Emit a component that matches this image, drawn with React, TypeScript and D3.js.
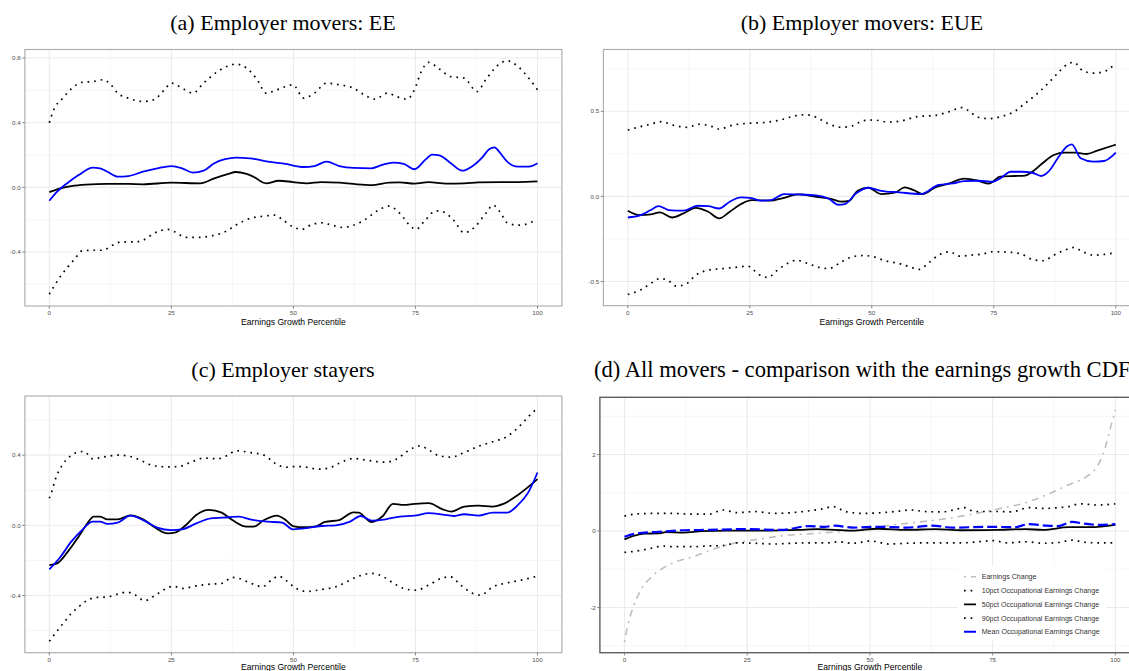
import React from 'react';
import * as d3 from 'd3';

type Pt = [number, number];

// ---------- text ----------
const titleA = '(a) Employer movers: EE';
const titleB = '(b) Employer movers: EUE';
const titleC = '(c) Employer stayers';
const titleD = '(d) All movers - comparison with the earnings growth CDF';
const xTitle = 'Earnings Growth Percentile';
const legendLabels = [
  'Earnings Change',
  '10pct Occupational Earnings Change',
  '50pct Occupational Earnings Change',
  '90pct Occupational Earnings Change',
  'Mean Occupational Earnings Change',
];

// ---------- ticks ----------
const xMajor = [0, 25, 50, 75, 100];
const xMinor = [12.5, 37.5, 62.5, 87.5];
const aYMajor = [-0.4, 0, 0.4, 0.8];
const aYMinor = [-0.6, -0.2, 0.2, 0.6];
const bYMajor = [-0.5, 0, 0.5];
const bYMinor = [-0.25, 0.25, 0.75];
const cYMajor = [-0.4, 0, 0.4];
const cYMinor = [-0.6, -0.2, 0.2, 0.6];
const dYMajor = [-2, 0, 2];
const dYMinor = [-3, -1, 1, 3];

// ---------- (a) Employer movers: EE ----------
const aP90: Pt[] = [[0,0.40],[0.9,0.48],[2.7,0.55],[4.5,0.61],[6.7,0.65],[8.9,0.655],[11.1,0.666],[12.6,0.635],[14,0.583],[16.2,0.552],[19.2,0.531],[21.4,0.542],[23.6,0.604],[25,0.645],[27.2,0.614],[29.4,0.583],[31.6,0.645],[34.5,0.717],[36.7,0.752],[38.2,0.763],[40.4,0.738],[42.6,0.666],[44.4,0.583],[47,0.608],[49.9,0.635],[52.1,0.552],[54.3,0.583],[56.8,0.645],[59.4,0.635],[62.3,0.614],[64.5,0.573],[66.7,0.546],[69.3,0.583],[71.1,0.562],[73.3,0.546],[74.8,0.604],[76.2,0.717],[77.7,0.773],[79.9,0.732],[82.1,0.686],[85,0.676],[87.6,0.593],[89.4,0.666],[91.6,0.748],[93.8,0.783],[96,0.748],[98.2,0.676],[100,0.604]];
const aP10: Pt[] = [[0,-0.661],[0.9,-0.616],[2.3,-0.55],[3.8,-0.492],[5.3,-0.44],[6.7,-0.393],[8.9,-0.389],[11.1,-0.389],[12.6,-0.364],[14.8,-0.337],[17.7,-0.337],[19.2,-0.327],[21.4,-0.285],[24.3,-0.26],[25.7,-0.275],[28,-0.31],[30.1,-0.31],[33.8,-0.296],[36,-0.275],[38.2,-0.234],[41.1,-0.192],[44,-0.178],[46.2,-0.172],[47.7,-0.198],[49.9,-0.244],[51.7,-0.26],[53.5,-0.234],[55.7,-0.219],[57.9,-0.234],[60.1,-0.248],[62.3,-0.234],[64.5,-0.203],[67.4,-0.141],[69.6,-0.116],[71.8,-0.161],[74,-0.24],[75.1,-0.26],[77,-0.203],[79.2,-0.145],[80.6,-0.151],[82.8,-0.203],[85,-0.281],[87.2,-0.244],[89.4,-0.161],[90.9,-0.11],[92.3,-0.151],[93.8,-0.219],[96,-0.234],[98.2,-0.223],[99.6,-0.198]];
const aP50: Pt[] = [[0,-0.029],[2.3,-0.006],[4.5,0.008],[7.5,0.017],[11.9,0.021],[16.2,0.021],[19.2,0.019],[25,0.029],[30.9,0.025],[33.8,0.056],[36.7,0.083],[38.2,0.095],[40.4,0.083],[41.8,0.066],[44.4,0.025],[47,0.041],[49.9,0.033],[52.8,0.025],[55.7,0.033],[59.4,0.029],[62.3,0.021],[66,0.014],[69.6,0.029],[71.8,0.031],[74.8,0.023],[77.7,0.033],[81.3,0.023],[85,0.025],[87.9,0.031],[92.3,0.033],[96,0.033],[100,0.037]];
const aMean: Pt[] = [[0,-0.083],[1.6,-0.027],[3.8,0.029],[6,0.076],[8.9,0.122],[10.4,0.118],[11.9,0.097],[14,0.066],[16.2,0.07],[19.2,0.097],[22.1,0.118],[25,0.132],[27.2,0.118],[29.4,0.091],[31.6,0.103],[33.8,0.149],[36,0.174],[38.2,0.184],[41.1,0.18],[44.8,0.159],[48.4,0.145],[52.1,0.126],[54.3,0.132],[56.8,0.159],[59.4,0.132],[62.3,0.12],[66,0.118],[68.2,0.139],[70.4,0.153],[72.6,0.145],[74.8,0.112],[77,0.17],[78.4,0.203],[79.9,0.198],[82.1,0.153],[84.6,0.103],[86.5,0.128],[88.7,0.186],[90.1,0.236],[91.2,0.248],[92.3,0.215],[93.8,0.159],[96,0.128],[98.2,0.128],[100,0.149]];

// ---------- (b) Employer movers: EUE ----------
const bP90: Pt[] = [[0,0.39],[1.8,0.404],[4.7,0.425],[6.9,0.439],[9.1,0.42],[12.1,0.406],[14.7,0.424],[17.3,0.41],[18.7,0.396],[21.7,0.42],[24.6,0.429],[28.3,0.435],[31.3,0.449],[34.2,0.473],[36.4,0.48],[38.6,0.465],[40.9,0.429],[43.8,0.406],[46,0.414],[48.2,0.445],[50.4,0.449],[53.4,0.437],[56.3,0.445],[59.3,0.469],[63,0.476],[65.9,0.498],[68.5,0.522],[69.6,0.508],[71.8,0.465],[74,0.457],[77,0.473],[79.2,0.498],[81.4,0.547],[83.6,0.596],[85.8,0.655],[88.1,0.724],[89.9,0.773],[91.4,0.788],[93.2,0.739],[95.4,0.724],[97.6,0.733],[100,0.782]];
const bP10: Pt[] = [[0,-0.576],[2.5,-0.551],[4.7,-0.512],[6.6,-0.482],[8.4,-0.496],[9.9,-0.527],[12.1,-0.512],[13.9,-0.463],[16.5,-0.433],[19.5,-0.424],[21.7,-0.418],[24.6,-0.41],[26.8,-0.457],[28.7,-0.476],[30.5,-0.437],[32.7,-0.394],[34.6,-0.375],[37.2,-0.398],[39.4,-0.418],[41.2,-0.424],[43.8,-0.384],[46,-0.355],[48.2,-0.347],[50.4,-0.355],[52.7,-0.378],[55.6,-0.394],[57.8,-0.414],[59.7,-0.429],[61.5,-0.394],[63.7,-0.345],[65.9,-0.325],[68.1,-0.351],[70.4,-0.345],[72.6,-0.339],[74.8,-0.325],[77.7,-0.327],[80.7,-0.339],[82.9,-0.371],[85.1,-0.378],[87.3,-0.345],[89.5,-0.316],[91.4,-0.3],[93.2,-0.325],[95.4,-0.345],[97.6,-0.341],[100,-0.331]];
const bP50: Pt[] = [[0,-0.084],[2.5,-0.11],[4.7,-0.106],[6.6,-0.094],[9.1,-0.124],[11.4,-0.1],[13.9,-0.067],[16.5,-0.09],[18.7,-0.129],[20.9,-0.09],[23.2,-0.045],[25.4,-0.022],[29.1,-0.025],[32,-0.008],[34.9,0.012],[38.6,-0.002],[41.6,-0.014],[43.8,-0.031],[45.3,-0.027],[47.1,0.033],[49.3,0.051],[51.9,0.014],[54.9,0.024],[56.7,0.053],[58.6,0.037],[60.4,0.014],[63,0.053],[65.9,0.076],[68.9,0.104],[71.8,0.092],[74,0.075],[76.3,0.116],[79.2,0.12],[81.4,0.122],[82.9,0.145],[85.1,0.198],[87.3,0.243],[89.5,0.257],[91.7,0.257],[94,0.249],[96.2,0.269],[100,0.304]];
const bMean: Pt[] = [[0,-0.124],[2.5,-0.112],[4.7,-0.08],[6.3,-0.057],[8.4,-0.08],[11.4,-0.084],[14.3,-0.055],[16.5,-0.057],[18.7,-0.071],[20.9,-0.031],[23.2,-0.006],[25.4,-0.01],[27.2,-0.025],[29.4,-0.022],[32,0.014],[34.9,0.012],[38.6,0.006],[41.2,-0.014],[43.1,-0.049],[44.5,-0.045],[46.8,0.018],[49.3,0.051],[51.9,0.033],[55.6,0.024],[60,0.014],[63.7,0.067],[66.7,0.076],[68.9,0.09],[71.8,0.092],[74.8,0.086],[76.3,0.106],[78.5,0.145],[80.7,0.145],[82.9,0.139],[84.7,0.12],[86.2,0.145],[88.1,0.224],[89.9,0.292],[91,0.306],[92.8,0.224],[95.4,0.204],[97.6,0.208],[100,0.257]];

// ---------- (c) Employer stayers ----------
const cP90: Pt[] = [[0,0.154],[0.5,0.192],[1.2,0.259],[2.7,0.345],[4.2,0.392],[5.6,0.415],[7.1,0.421],[8.9,0.379],[11.1,0.389],[14,0.4],[16.6,0.392],[19.2,0.364],[21.4,0.339],[24.3,0.333],[26.5,0.335],[29.4,0.364],[31.6,0.383],[34.5,0.379],[36.7,0.402],[38.2,0.425],[41.1,0.415],[44,0.4],[46.2,0.354],[48.4,0.331],[50.6,0.335],[52.8,0.331],[55,0.32],[57.2,0.326],[59.4,0.354],[62.3,0.381],[64.5,0.373],[66.7,0.364],[68.9,0.36],[71.1,0.377],[73.3,0.421],[75.9,0.453],[77.7,0.43],[79.9,0.396],[82.4,0.389],[85,0.415],[87.9,0.45],[90.8,0.476],[93.8,0.507],[96.3,0.564],[98.2,0.621],[100,0.669]];
const cP10: Pt[] = [[0,-0.661],[1.6,-0.602],[3.1,-0.55],[4.5,-0.503],[6,-0.465],[7.8,-0.427],[9.7,-0.411],[11.9,-0.408],[14,-0.392],[15.9,-0.381],[17.7,-0.398],[19.5,-0.43],[21.4,-0.404],[23.6,-0.366],[25.4,-0.347],[27.2,-0.36],[30.1,-0.345],[33.1,-0.335],[35.3,-0.331],[37.5,-0.297],[38.9,-0.303],[41.1,-0.328],[43.7,-0.35],[45.5,-0.312],[47,-0.29],[48.4,-0.312],[50.6,-0.36],[52.8,-0.377],[55.7,-0.366],[58.7,-0.35],[60.9,-0.322],[63.1,-0.293],[66,-0.274],[68.2,-0.29],[70.4,-0.328],[72.6,-0.36],[75.1,-0.37],[77.7,-0.341],[80.2,-0.303],[82.1,-0.293],[84.3,-0.341],[86.5,-0.385],[88.3,-0.398],[90.9,-0.35],[93.8,-0.328],[96.7,-0.312],[100,-0.29]];
const cP50: Pt[] = [[0,-0.227],[1.6,-0.217],[3.8,-0.15],[6,-0.065],[7.8,0.011],[9.1,0.05],[10.4,0.05],[11.9,0.034],[14,0.034],[16.6,0.057],[19.2,0.034],[21.4,-0.008],[24.3,-0.046],[25.7,-0.042],[28,0.002],[30.1,0.059],[32.7,0.088],[35.3,0.072],[37.5,0.03],[40.4,-0.008],[41.8,-0.008],[44,0.03],[46.6,0.055],[48.4,0.03],[49.9,-0.004],[52.1,-0.011],[54.3,-0.008],[56.5,0.019],[59.4,0.03],[62.3,0.074],[63.4,0.072],[66,0.019],[68.2,0.05],[70.4,0.122],[72.6,0.116],[74.8,0.122],[77.7,0.126],[80.6,0.091],[82.4,0.078],[85,0.107],[87.9,0.112],[90.8,0.107],[93,0.122],[96,0.173],[100,0.263]];
const cMean: Pt[] = [[0,-0.251],[2.3,-0.179],[4.5,-0.093],[6.7,-0.027],[8.9,0.021],[10.4,0.021],[11.9,0.008],[14,0.015],[16.6,0.055],[19.2,0.03],[22.1,-0.013],[25,-0.027],[27.2,-0.023],[30.1,0.011],[33.1,0.04],[36.7,0.046],[38.9,0.05],[41.1,0.034],[44.8,0.021],[47.7,0.015],[49.9,-0.023],[52.1,-0.017],[55.7,-0.004],[58.7,0],[61.6,0.021],[63.8,0.053],[66,0.027],[68.9,0.034],[71.8,0.05],[74.8,0.055],[77.7,0.069],[80.6,0.061],[82.8,0.053],[85,0.063],[87.9,0.055],[90.8,0.072],[93.8,0.072],[96,0.116],[98.2,0.192],[100,0.301]];

// ---------- (d) All movers ----------
const dEarn: Pt[] = [[0,-2.9],[0.7,-2.46],[1.8,-1.98],[3.3,-1.55],[5.5,-1.2],[7.7,-0.98],[10.6,-0.8],[14.3,-0.66],[18.7,-0.45],[22.3,-0.32],[26,-0.24],[31.9,-0.13],[39.2,-0.06],[46.5,0.01],[51.6,0.11],[57.5,0.2],[64.8,0.31],[70,0.42],[75.8,0.57],[81.7,0.74],[86.8,0.99],[90.5,1.21],[94.1,1.42],[96.3,1.69],[97.8,2.12],[98.9,2.65],[100,3.17]];
const dP90: Pt[] = [[0,0.39],[2.6,0.45],[6.2,0.46],[9.9,0.46],[13.6,0.44],[17.2,0.44],[20.1,0.55],[23,0.48],[26.7,0.51],[30.4,0.46],[34.1,0.48],[37.7,0.53],[40.7,0.59],[42.5,0.64],[45,0.51],[48.7,0.46],[52.4,0.48],[56,0.52],[58.2,0.55],[61.2,0.51],[64.8,0.5],[67,0.55],[69.2,0.61],[71.4,0.51],[75.8,0.51],[78.8,0.5],[82.4,0.61],[85.3,0.59],[88.3,0.61],[90.5,0.64],[92.7,0.71],[96.3,0.68],[100,0.71]];
const dP10: Pt[] = [[0,-0.56],[2.6,-0.52],[5.5,-0.45],[7.7,-0.39],[9.9,-0.41],[13.6,-0.41],[17.2,-0.39],[20.1,-0.38],[23,-0.31],[26.7,-0.32],[30.4,-0.34],[34.1,-0.32],[37.7,-0.31],[41.4,-0.31],[43.6,-0.28],[46.5,-0.32],[50.2,-0.26],[53.8,-0.34],[57.5,-0.32],[61.2,-0.31],[64.8,-0.31],[68.5,-0.31],[72.2,-0.28],[75.1,-0.25],[78,-0.31],[81.7,-0.28],[85.3,-0.32],[88.3,-0.3],[91.2,-0.24],[94.1,-0.3],[97.1,-0.31],[100,-0.31]];
const dP50: Pt[] = [[0,-0.22],[1.8,-0.13],[4,-0.07],[7,-0.06],[8.4,-0.03],[12.1,-0.04],[15.8,0],[20.9,0.01],[28.2,0.01],[35.5,0.03],[39.2,0.05],[46.5,0.01],[51.6,0.06],[57.5,0.03],[63.4,0.05],[68.5,0.02],[75.8,0.03],[81.7,0.05],[85.3,0.03],[90.5,0.1],[94.9,0.1],[100,0.16]];
const dMean: Pt[] = [[0,-0.15],[2.6,-0.06],[7,-0.02],[12.1,0.02],[17.2,0.03],[24.5,0.05],[31.9,0.03],[37.7,0.13],[40.7,0.11],[42.9,0.14],[46.5,0.09],[51.6,0.11],[57.5,0.09],[62.6,0.14],[67,0.09],[74.4,0.11],[79.5,0.1],[82.4,0.18],[86,0.14],[88.3,0.13],[91.2,0.24],[93.4,0.2],[96.3,0.16],[100,0.18]];

// ---------- styles ----------
type Style = { stroke: string; width: number; dash?: string };
const sDot: Style = { stroke: '#000', width: 1.7, dash: '1.7 4.9' };
const sBlack: Style = { stroke: '#000', width: 1.8 };
const sBlue: Style = { stroke: '#0000FF', width: 1.8 };
const sBlueDash: Style = { stroke: '#0000FF', width: 2.2, dash: '10 4' };
const sGray: Style = { stroke: '#BEBEBE', width: 1.6, dash: '2 5 7 5' };

const SANS = '"Liberation Sans", Arial, Helvetica, sans-serif';
const SERIF = '"Liberation Serif", "Times New Roman", serif';

interface PanelCfg {
  id: string;
  title: string;
  titleX: number;
  titleAnchor: 'middle' | 'start';
  titleY: number;
  titleSize: number;
  left: number; right: number; top: number; bottom: number;
  yDomain: [number, number];
  yMajor: number[]; yMinor: number[];
  fmt: (v: number) => string;
  series: { data: Pt[]; style: Style }[];
  border: string; borderW: number;
  legend?: boolean;
}

const fmt1 = (v: number) => (Math.abs(v) < 1e-9 ? '0.0' : v.toFixed(1));
const fmt0 = (v: number) => String(Math.round(v));

const panels: PanelCfg[] = [
  { id: 'a', title: titleA, titleX: 283, titleAnchor: 'middle', titleY: 29.5, titleSize: 22,
    left: 24.9, right: 561.9, top: 49.5, bottom: 306, yDomain: [-0.734, 0.853],
    yMajor: aYMajor, yMinor: aYMinor, fmt: fmt1,
    series: [{ data: aP90, style: sDot }, { data: aP10, style: sDot }, { data: aP50, style: sBlack }, { data: aMean, style: sBlue }],
    border: '#A9A9A9', borderW: 1.1 },
  { id: 'b', title: titleB, titleX: 862, titleAnchor: 'middle', titleY: 29.5, titleSize: 22,
    left: 603.4, right: 1140.2, top: 49.5, bottom: 305.7, yDomain: [-0.642, 0.863],
    yMajor: bYMajor, yMinor: bYMinor, fmt: fmt1,
    series: [{ data: bP90, style: sDot }, { data: bP10, style: sDot }, { data: bP50, style: sBlack }, { data: bMean, style: sBlue }],
    border: '#A9A9A9', borderW: 1.1 },
  { id: 'c', title: titleC, titleX: 283, titleAnchor: 'middle', titleY: 376.5, titleSize: 22,
    left: 24.9, right: 561.9, top: 396, bottom: 652.7, yDomain: [-0.726, 0.737],
    yMajor: cYMajor, yMinor: cYMinor, fmt: fmt1,
    series: [{ data: cP90, style: sDot }, { data: cP10, style: sDot }, { data: cP50, style: sBlack }, { data: cMean, style: sBlue }],
    border: '#A9A9A9', borderW: 1.1 },
  { id: 'd', title: titleD, titleX: 594, titleAnchor: 'start', titleY: 376.5, titleSize: 22.6,
    left: 599.9, right: 1139.9, top: 397.3, bottom: 652.7, yDomain: [-3.18, 3.495],
    yMajor: dYMajor, yMinor: dYMinor, fmt: fmt0,
    series: [{ data: dEarn, style: sGray }, { data: dP10, style: sDot }, { data: dP90, style: sDot }, { data: dP50, style: sBlack }, { data: dMean, style: sBlueDash }],
    border: '#5E5E5E', borderW: 1.4, legend: true },
];

const legendStyles: Style[] = [sGray, sDot, sBlack, sDot, { ...sBlue, width: 2 }];

function Panel({ p }: { p: PanelCfg }) {
  const x = d3.scaleLinear().domain([-5, 105]).range([p.left, p.right]);
  const y = d3.scaleLinear().domain(p.yDomain).range([p.bottom, p.top]);
  const line = d3.line<Pt>().x(d => x(d[0])).y(d => y(d[1])).curve(d3.curveMonotoneX);
  const clipId = `clip-${p.id}`;
  const w = p.right - p.left, h = p.bottom - p.top;
  const xc = (p.left + p.right) / 2;
  return (
    <g>
      <text x={p.titleX} y={p.titleY} fontFamily={SERIF} fontSize={p.titleSize} textAnchor={p.titleAnchor} fill="#000">{p.title}</text>
      <defs>
        <clipPath id={clipId}><rect x={p.left} y={p.top} width={w} height={h} /></clipPath>
      </defs>
      <rect x={p.left} y={p.top} width={w} height={h} fill="#fff" />
      <g clipPath={`url(#${clipId})`}>
        {xMinor.map(t => <line key={'xm' + t} x1={x(t)} x2={x(t)} y1={p.top} y2={p.bottom} stroke="#F0F0F0" strokeWidth={0.6} />)}
        {p.yMinor.map(t => <line key={'ym' + t} x1={p.left} x2={p.right} y1={y(t)} y2={y(t)} stroke="#F0F0F0" strokeWidth={0.6} />)}
        {xMajor.map(t => <line key={'xM' + t} x1={x(t)} x2={x(t)} y1={p.top} y2={p.bottom} stroke="#EBEBEB" strokeWidth={1.1} />)}
        {p.yMajor.map(t => <line key={'yM' + t} x1={p.left} x2={p.right} y1={y(t)} y2={y(t)} stroke="#EBEBEB" strokeWidth={1.1} />)}
        {p.series.map((s, i) => (
          <path key={i} d={line(s.data) || ''} fill="none" stroke={s.style.stroke} strokeWidth={s.style.width}
            strokeDasharray={s.style.dash} strokeLinejoin="round" />
        ))}
        {p.legend && (
          <g>
            <rect x={958} y={566.5} width={148} height={73.5} fill="#fff" />
            {legendLabels.map((lab, i) => {
              const ly = 576.8 + i * 13.75;
              const st = legendStyles[i];
              return (
                <g key={lab}>
                  <line x1={964} x2={976} y1={ly} y2={ly} stroke={st.stroke} strokeWidth={st.width} strokeDasharray={st.dash} />
                  <text x={981.7} y={ly + 2.5} fontFamily={SANS} fontSize={7.1} fill="#333">{lab}</text>
                </g>
              );
            })}
          </g>
        )}
      </g>
      <rect x={p.left} y={p.top} width={w} height={h} fill="none" stroke={p.border} strokeWidth={p.borderW} />
      {p.yMajor.map(t => (
        <g key={'yt' + t}>
          <line x1={p.left - 2.7} x2={p.left} y1={y(t)} y2={y(t)} stroke="#777" strokeWidth={0.9} />
          <text x={p.left - 4.2} y={y(t) + 2.2} fontFamily={SANS} fontSize={6.2} fill="#4D4D4D" textAnchor="end">{p.fmt(t)}</text>
        </g>
      ))}
      {xMajor.map(t => (
        <g key={'xt' + t}>
          <line x1={x(t)} x2={x(t)} y1={p.bottom} y2={p.bottom + 2.7} stroke="#777" strokeWidth={0.9} />
          <text x={x(t)} y={p.bottom + 9.4} fontFamily={SANS} fontSize={6.2} fill="#4D4D4D" textAnchor="middle">{String(t)}</text>
        </g>
      ))}
      <text x={xc} y={Math.min(p.bottom + 18.8, 669.5)} fontFamily={SANS} fontSize={8.6} fill="#000" textAnchor="middle">{xTitle}</text>
    </g>
  );
}

export default function App() {
  return (
    <svg width={1129} height={671} viewBox="0 0 1129 671"
      style={{ position: 'absolute', left: 0, top: 0, background: '#fff', overflow: 'hidden' }}>
      <rect x={0} y={0} width={1129} height={671} fill="#fff" />
      {panels.map(p => <Panel key={p.id} p={p} />)}
    </svg>
  );
}
